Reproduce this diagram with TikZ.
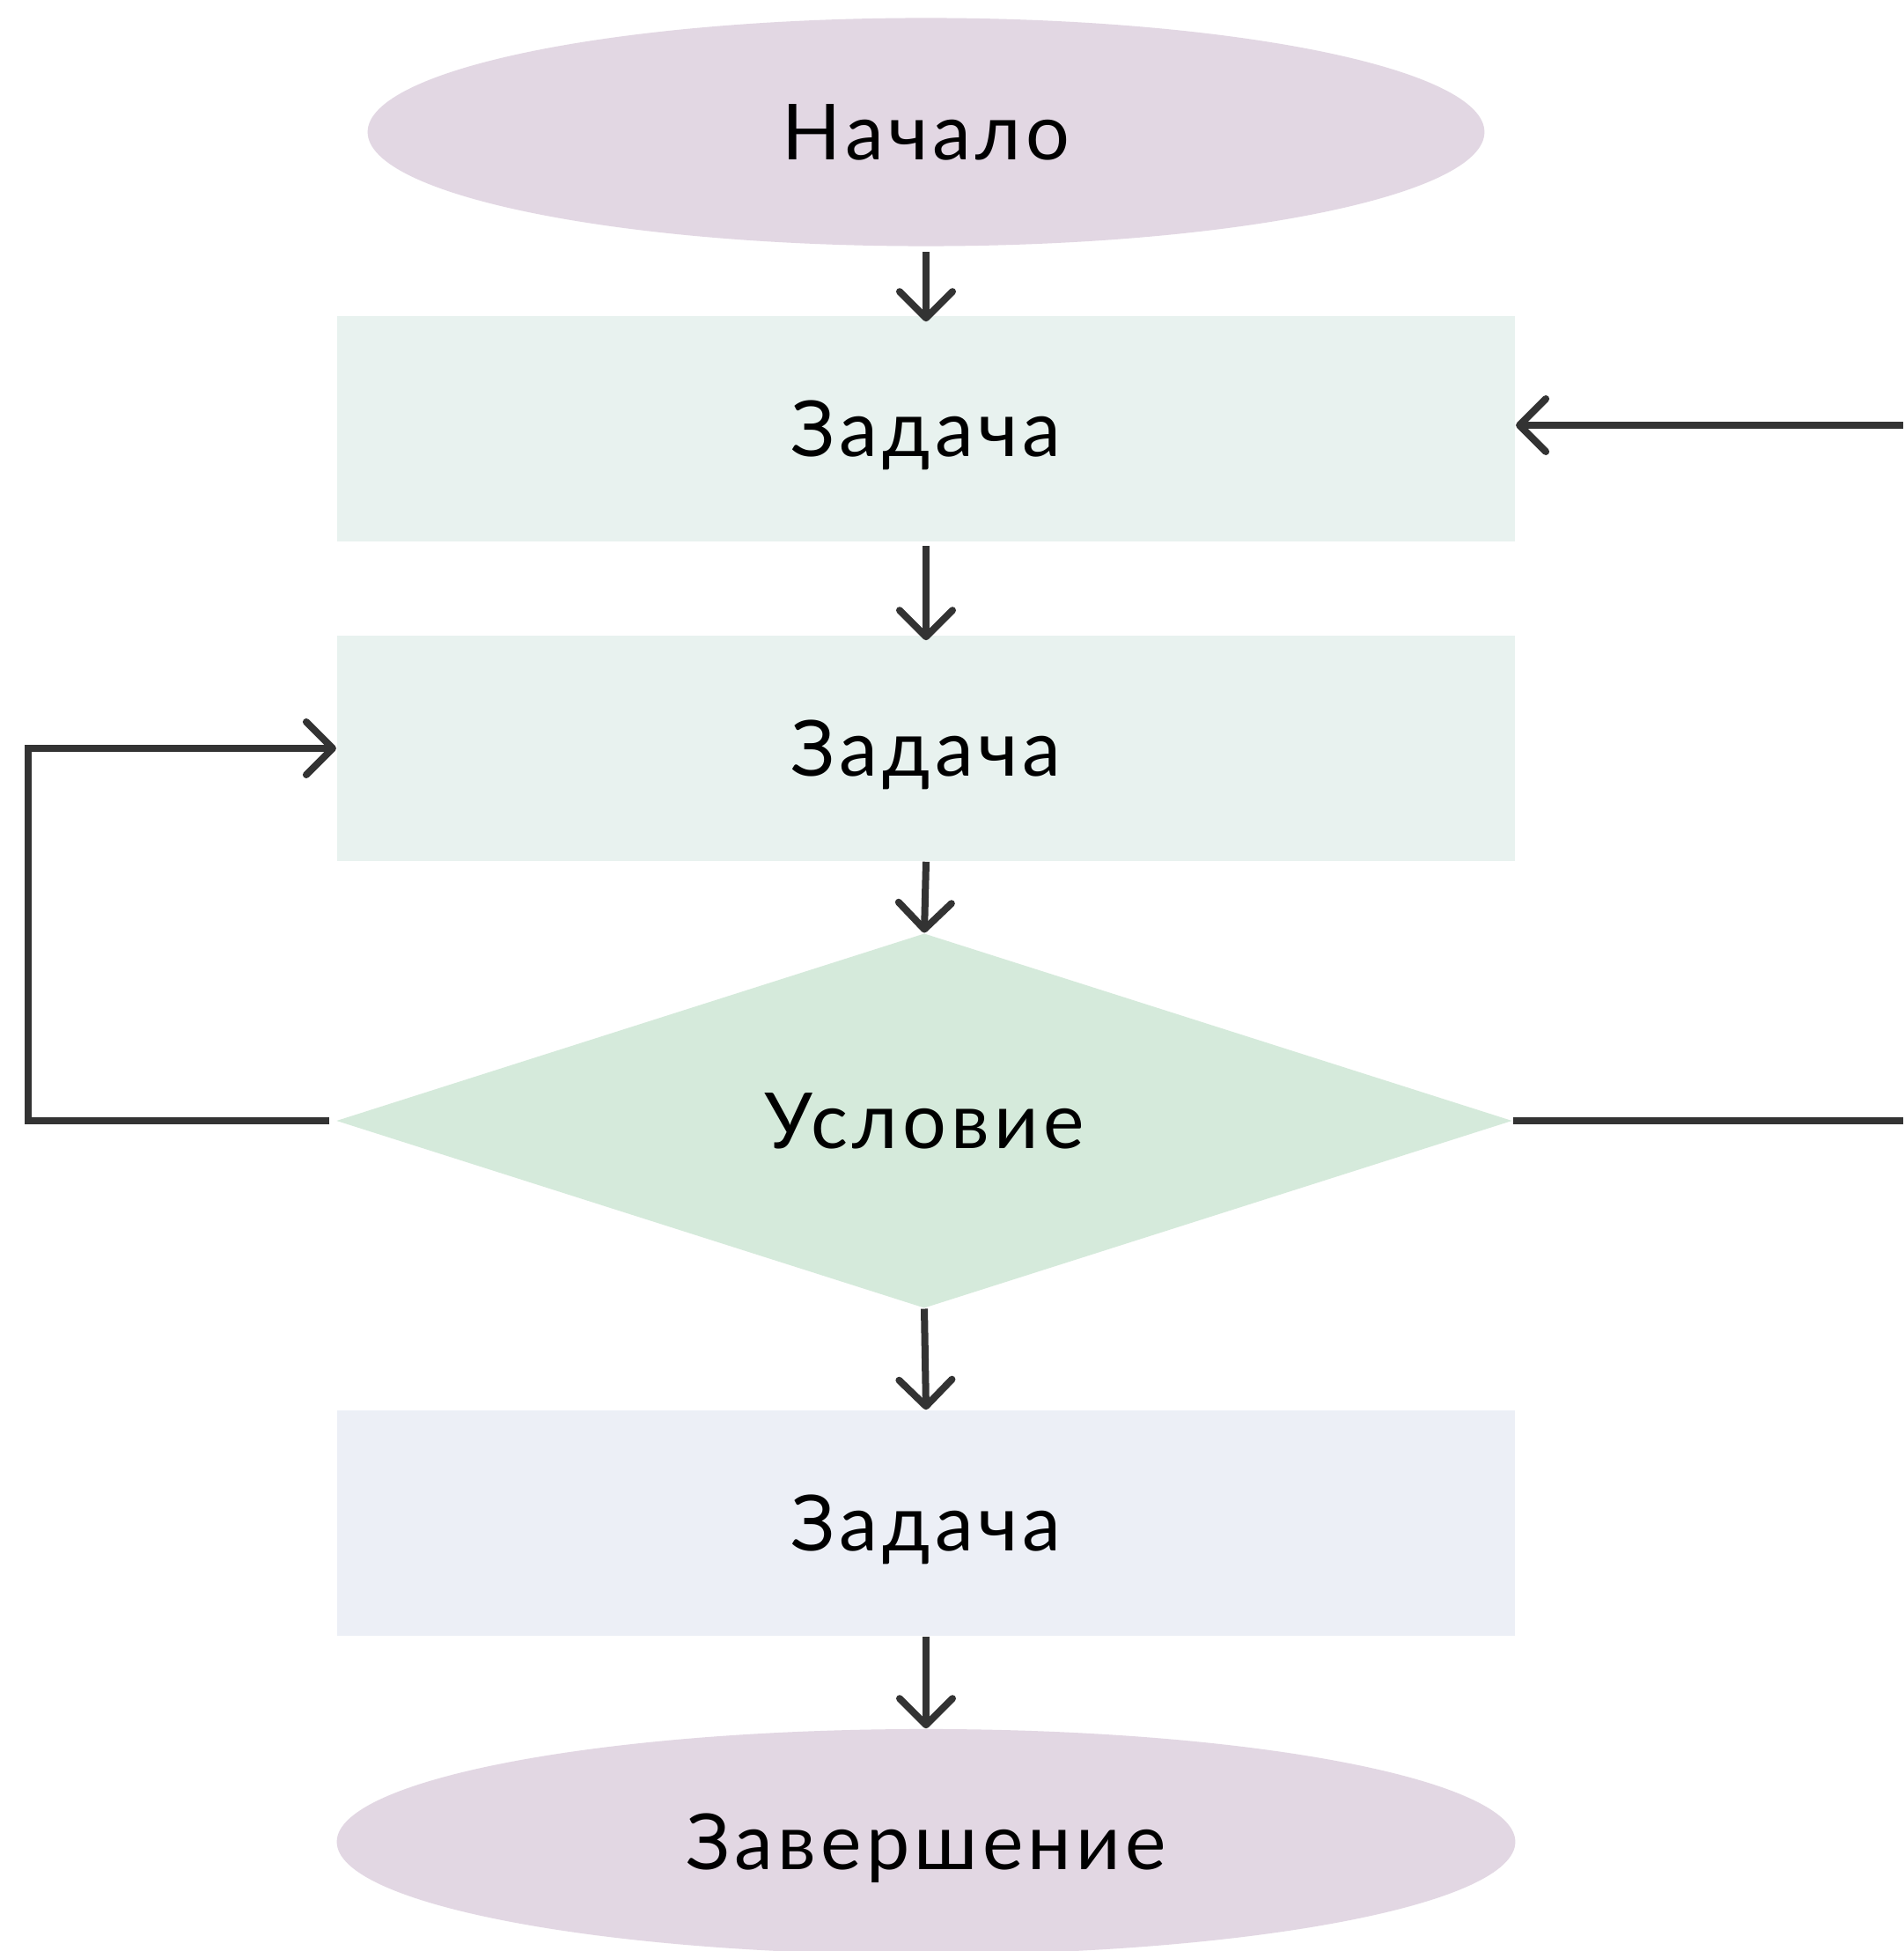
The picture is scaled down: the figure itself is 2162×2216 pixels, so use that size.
\documentclass[tikz,border=0pt]{standalone}
\usepackage{fontspec}
\setmainfont{Lato}[LetterSpace=6]
\usetikzlibrary{shapes.geometric,arrows.meta}
\definecolor{ovalc}{HTML}{E2D7E3}
\definecolor{taskc}{HTML}{E8F2EF}
\definecolor{condc}{HTML}{D5EADB}
\definecolor{lastc}{HTML}{ECEFF6}
\definecolor{linec}{HTML}{333333}
\begin{document}
\begin{tikzpicture}[x=0.01cm,y=-0.01cm,
  conn/.style={draw=linec, line width=0.08cm},
  arr/.style={conn, -{Straight Barb[length=0.3cm,width=0.6cm,round]}},
  txt/.style={font=\fontsize{25pt}{30pt}\selectfont, text depth=0pt, inner sep=0pt, text=black},
  oval/.style={ellipse, fill=ovalc, txt},
  taskbox/.style={rectangle, txt, minimum width=13.38cm, minimum height=2.56cm},
  cond/.style={diamond, fill=condc, txt, minimum width=13.35cm, minimum height=4.15cm}]
\useasboundingbox (0,0) rectangle (2162,2216);
\fill[white] (0,0) rectangle (2162,2216);
\clip (0,0) rectangle (2162,2216);

\node[oval, minimum width=12.68cm, minimum height=2.59cm] (start) at (1052,150) {Начало};
\node[taskbox, fill=taskc] (t1) at (1052,487) {Задача};
\node[taskbox, fill=taskc] (t2) at (1052,850) {Задача};
\node[cond] (cond) at (1050,1273) {Условие};
\node[taskbox, fill=lastc] (t3) at (1052,1730) {Задача};
\node[oval, minimum width=13.38cm, minimum height=2.56cm] (finish) at (1052,2092) {Завершение};

\coordinate (lx) at (32,0);
\coordinate (rx) at (2175,0);
\coordinate (t1in) at ([yshift=0.04cm]t1.east);

\draw[arr, shorten <=0.06cm, shorten >=-0.07cm] (start.south) -- (t1.north);
\draw[arr, shorten <=0.04cm, shorten >=-0.06cm] (t1.south) -- (t2.north);
\draw[arr] (t2.south) -- (cond.north);
\draw[arr] (cond.south) -- (t3.north);
\draw[arr] (t3.south) -- (finish.north);
\draw[arr, shorten <=0.07cm] (cond.west) -- (cond.west -| lx) |- (t2.west);
\draw[conn] (cond.east) -- (cond.east -| rx);
\draw[arr] (t1in -| rx) -- (t1in);
\end{tikzpicture}
\end{document}
